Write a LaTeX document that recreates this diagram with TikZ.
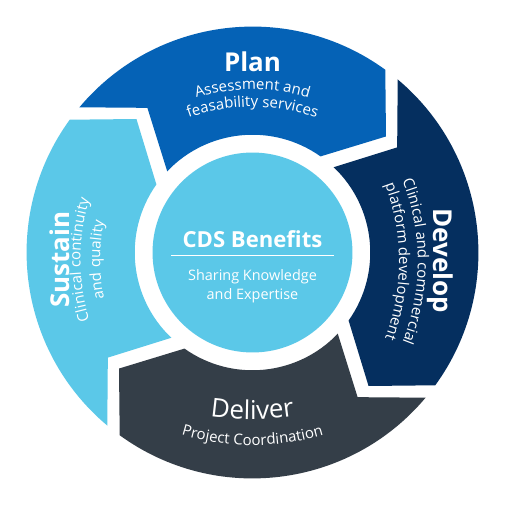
\documentclass[tikz,border=0pt]{standalone}
\usepackage{fontspec}
\setmainfont{Open Sans}
\usetikzlibrary{decorations.text}
\definecolor{planblue}{HTML}{0562B6}
\definecolor{developblue}{HTML}{052F5F}
\definecolor{deliverslate}{HTML}{343E48}
\definecolor{sustainblue}{HTML}{5BC8E8}
\newcommand{\headfont}{\fontsize{27}{30}\selectfont\bfseries}
\newcommand{\deliverfont}{\fontsize{27}{30}\selectfont}
\newcommand{\subfont}{\fontsize{15.6}{19}\selectfont}
\tikzset{
    heading/.style = { text=white, font=\headfont, inner sep=0, anchor=base, },
    blurb/.style = { text=white, font=\fontsize{15}{18}\selectfont, inner sep=0, anchor=base, },
    hub/.style = { circle, fill=sustainblue, minimum size=208, inner sep=0, },
}
\newcommand{\segment}[2]{
    \fill [#2, rotate=#1] (140:235) arc [start angle=140, end angle=54, radius=235]
        -- (41:184) -- (54.7:122.5)
        arc [start angle=54.7, end angle=136.4, radius=122.5]
        -- (126:186) -- cycle;
}
% font, baseline middle x and y, radius, outward angle, half span, text
\newcommand{\arctext}[7]{
    \path [shift={(#2,#3)}, shift={({#5+180}:#4)}, decorate,
        decoration={text along path, text align=center, text color=white,
            text={|#1|#7}}]
        ({#5+(#6)}:#4) arc [start angle={#5+(#6)}, end angle={#5-(#6)}, radius=#4];
}

\begin{document}
\begin{tikzpicture}[x=1pt,y=1pt]

    \fill [white] (-252.5,-252.5) rectangle (252.5,252.5);

    \segment{0}{planblue}
    \segment{-90}{developblue}
    \segment{-180}{deliverslate}
    \segment{90}{sustainblue}

    \node [hub] (benefits) at (0,0) {};
    \node [heading, font=\fontsize{23}{26}\selectfont\bfseries] (cds) at (0,5.5) {CDS Benefits};
    \coordinate (rule west) at (-84.5,-3.5);
    \coordinate (rule east) at (84.5,-3.5);
    \draw [white, line width=0.8] (rule west) -- (rule east);
    \node [blurb] (sharing) at (0,-29) {Sharing Knowledge};
    \node [blurb] (expertise) at (0,-49) {and Expertise};

    \node [heading] (plan) at (0,188.5) {Plan};
    \arctext{\subfont}{0}{169.5}{200}{90}{25}{Assessment and}
    \arctext{\subfont}{0}{151.5}{200}{90}{25}{feasability services}

    \node [heading, rotate=-90] (develop) at (188.5,-8.5) {Develop};
    \arctext{\subfont}{172}{-9.5}{228}{0}{25}{Clinical and commercial}
    \arctext{\subfont}{152.5}{-9.5}{226}{0}{25}{platform development}

    \arctext{\deliverfont}{0}{-173.5}{300}{-90}{-15}{Deliver}
    \arctext{\subfont}{0}{-200.5}{256}{-90}{-20}{Project Coordination}

    \node [heading, rotate=90] (sustain) at (-190.5,-7.5) {Sustain};
    \arctext{\subfont}{-179}{-7.5}{213}{180}{25}{Clinical continuity}
    \arctext{\subfont}{-158.5}{-7.5}{200}{180}{25}{and quality}

\end{tikzpicture}
\end{document}
